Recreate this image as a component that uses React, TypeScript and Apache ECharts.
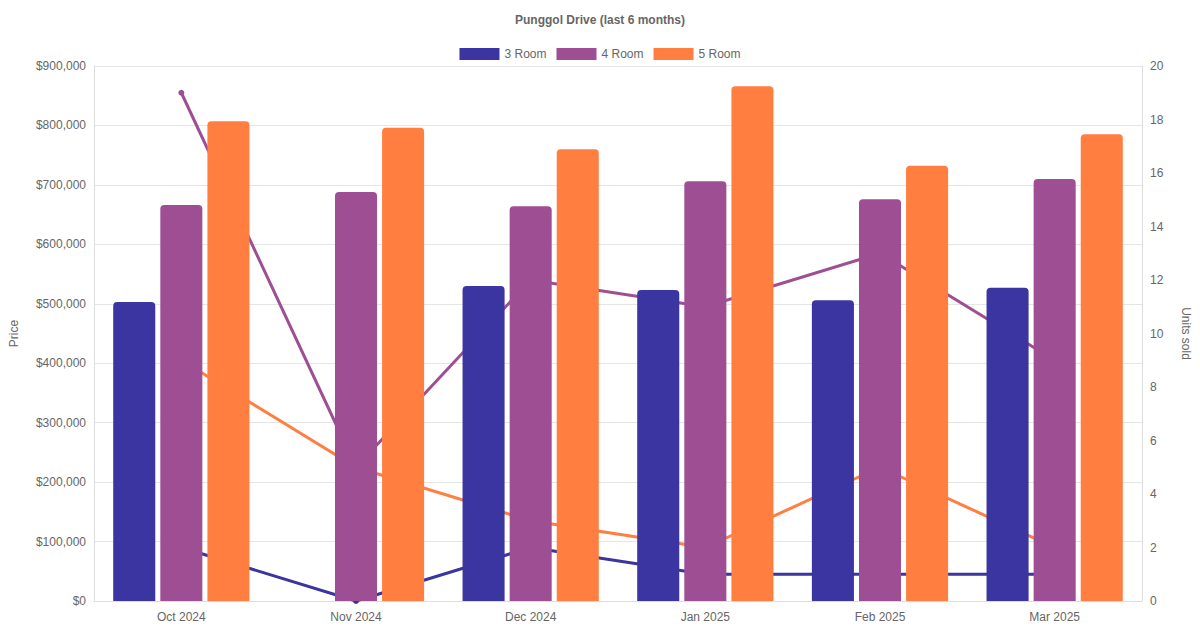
import React, { useEffect, useRef } from "react";
import * as echarts from "echarts";

const categories = ["Oct 2024", "Nov 2024", "Dec 2024", "Jan 2025", "Feb 2025", "Mar 2025"];
const seriesNames = ["3 Room", "4 Room", "5 Room"];
const colors = ["#3a35a0", "#9e4f94", "#ff7e40"];
const price3 = [503000, null, 530000, 523000, 506000, 527000];
const price4 = [666000, 688000, 664000, 706000, 676000, 710000];
const price5 = [807000, 796000, 760000, 866000, 732000, 785000];
const units3 = [2, 0, 2, 1, 1, 1];
const units4 = [19, 5, 12, 11, 13, 9];
const units5 = [9, 5, 3, 2, 5, 2];

export default function App() {
  const ref = useRef<HTMLDivElement>(null);
  useEffect(() => {
    const chart = echarts.init(ref.current!, null, { renderer: "svg" });
    const prices = [price3, price4, price5];
    const units = [units3, units4, units5];
    const txt = { color: "#666", fontSize: 12, fontFamily: "Liberation Sans, Arial, sans-serif" };
    chart.setOption({
      animation: false,
      textStyle: { fontFamily: "Liberation Sans, Arial, sans-serif" },
      title: {
        text: "Punggol Drive (last 6 months)", left: "center", top: 9,
        textStyle: { color: "#666", fontSize: 12, fontWeight: "bold" },
      },
      legend: {
        top: 43, itemWidth: 40, itemHeight: 12, itemGap: 10,
        data: seriesNames.map((n) => ({ name: n, icon: "rect" })),
        textStyle: txt,
      },
      grid: { left: 88, right: 53, top: 66, bottom: 29 },
      xAxis: {
        type: "category", data: categories,
        axisLine: { lineStyle: { color: "#ddd" } },
        axisTick: { show: false },
        axisLabel: { ...txt, margin: 10 },
      },
      yAxis: [
        {
          type: "value", min: 0, max: 900000, interval: 100000,
          name: "Price", nameLocation: "middle", nameGap: 74, nameTextStyle: txt,
          axisLabel: { ...txt, formatter: (v: number) => "$" + v.toLocaleString("en-US") },
          splitLine: { lineStyle: { color: "#e5e5e5" } },
          axisLine: { show: true, lineStyle: { color: "#ddd" } },
        },
        {
          type: "value", min: 0, max: 20, interval: 2,
          name: "Units sold", nameLocation: "middle", nameGap: 38, nameRotate: -90, nameTextStyle: txt,
          axisLabel: txt,
          splitLine: { show: false },
          axisLine: { show: true, lineStyle: { color: "#ddd" } },
        },
      ],
      series: [
        ...seriesNames.map((n, i) => ({
          name: n, type: "line", yAxisIndex: 1, data: units[i], z: 1,
          symbol: "circle", symbolSize: 6,
          lineStyle: { width: 3, color: colors[i] }, itemStyle: { color: colors[i] },
        })),
        ...seriesNames.map((n, i) => ({
          name: n, type: "bar", data: prices[i], z: 3,
          barGap: "12%", barCategoryGap: "22%",
          itemStyle: { color: colors[i], borderRadius: [4, 4, 0, 0] },
        })),
      ],
    });
    return () => chart.dispose();
  }, []);
  return <div ref={ref} style={{ width: 1200, height: 630, margin: -8 }} />;
}
